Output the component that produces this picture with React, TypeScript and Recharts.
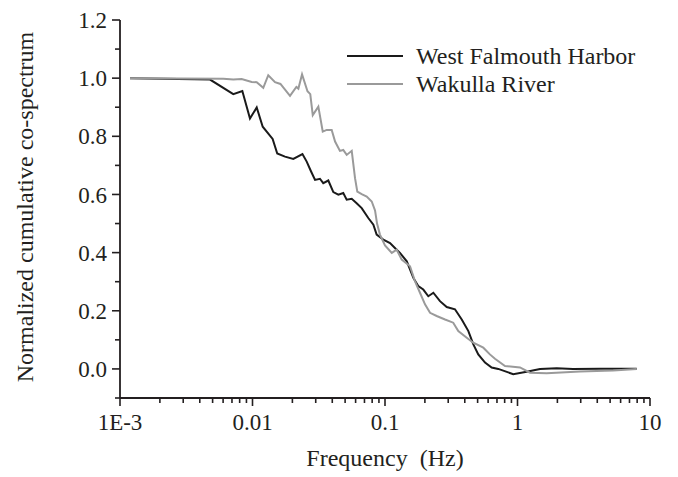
import React from 'react';
import { LineChart, Line, XAxis, YAxis, Legend } from 'recharts';

// frequency (Hz) and normalized cumulative co-spectrum
const westFreq = [
  0.00119, 0.00478, 0.00716, 0.00838, 0.00957, 0.01076, 0.01194, 0.01419, 0.01537, 0.01758,
  0.02032, 0.02382, 0.02565, 0.02768, 0.02965, 0.03228, 0.0342, 0.03733, 0.04074, 0.04446,
  0.04842, 0.0514, 0.0561, 0.0611, 0.0667, 0.0748, 0.0817, 0.0865, 0.0971, 0.1091,
  0.1225, 0.1297, 0.146, 0.1637, 0.1782, 0.1945, 0.2123, 0.2317, 0.26, 0.2924,
  0.3373, 0.3795, 0.4258, 0.4634, 0.5058, 0.5689, 0.6383, 0.7161, 0.929, 1.172,
  1.479, 1.976, 2.624, 4.2, 7.94,
];
const westValues = [
  1.0, 0.995, 0.945, 0.956, 0.861, 0.899, 0.833, 0.791, 0.741, 0.73,
  0.722, 0.739, 0.713, 0.679, 0.65, 0.654, 0.639, 0.648, 0.608, 0.599,
  0.605, 0.582, 0.585, 0.57, 0.553, 0.519, 0.496, 0.462, 0.445, 0.433,
  0.41, 0.399, 0.37, 0.313, 0.285, 0.273, 0.25, 0.262, 0.233, 0.213,
  0.205, 0.17, 0.13, 0.085, 0.05, 0.022, 0.005, 0.0, -0.018, -0.01,
  0.0, 0.002, 0.0, 0.001, 0.001,
];

const wakullaFreq = [
  0.00119, 0.00603, 0.00716, 0.00828, 0.00986, 0.01076, 0.01206, 0.01315, 0.01479, 0.01625,
  0.01919, 0.02143, 0.0222, 0.02366, 0.026, 0.02729, 0.0285, 0.0314, 0.0339, 0.0363,
  0.0396, 0.042, 0.0457, 0.0484, 0.0514, 0.0561, 0.0594, 0.0618, 0.0667, 0.0728,
  0.0794, 0.0841, 0.0871, 0.0916, 0.1, 0.1125, 0.1225, 0.1337, 0.1545, 0.1683,
  0.1837, 0.2004, 0.2188, 0.2455, 0.2838, 0.3273, 0.3573, 0.414, 0.4634, 0.552,
  0.619, 0.676, 0.805, 1.045, 1.242, 1.66, 2.963, 5.28, 7.94,
];
const wakullaValues = [
  1.0, 0.998, 0.995, 0.997, 0.987, 0.986, 0.967, 1.01, 0.986, 0.98,
  0.939, 0.97, 0.964, 1.013, 0.955, 0.945, 0.873, 0.902, 0.816, 0.822,
  0.822, 0.782, 0.75, 0.753, 0.736, 0.75, 0.656, 0.61, 0.601, 0.593,
  0.576, 0.545, 0.5, 0.462, 0.425, 0.399, 0.41, 0.376, 0.353, 0.302,
  0.262, 0.222, 0.193, 0.182, 0.17, 0.159, 0.13, 0.107, 0.09, 0.073,
  0.05, 0.035, 0.01, 0.005, -0.013, -0.015, -0.009, -0.005, 0.0,
];

const xTicks = [
  0.001, 0.002, 0.003, 0.004, 0.005, 0.006, 0.007, 0.008, 0.009,
  0.01, 0.02, 0.03, 0.04, 0.05, 0.06, 0.07, 0.08, 0.09,
  0.1, 0.2, 0.3, 0.4, 0.5, 0.6, 0.7, 0.8, 0.9,
  1, 2, 3, 4, 5, 6, 7, 8, 9, 10,
];
const xMajor = [0.001, 0.01, 0.1, 1, 10];
const xLabels = ['1E-3', '0.01', '0.1', '1', '10'];

const yTicks = [-0.1, 0, 0.1, 0.2, 0.3, 0.4, 0.5, 0.6, 0.7, 0.8, 0.9, 1.0, 1.1, 1.2];
const yLabels = ['0.0', '0.2', '0.4', '0.6', '0.8', '1.0', '1.2'];

const westData = westFreq.map((f, i) => ({ f, v: westValues[i] }));
const wakullaData = wakullaFreq.map((f, i) => ({ f, v: wakullaValues[i] }));

const FONT = "'Liberation Serif', 'Times New Roman', serif";
const INK = '#231f20';

const XTick = (props: any) => {
  const { x, y, payload } = props;
  const idx = xMajor.findIndex((m) => Math.abs(m - payload.value) < 1e-9);
  const major = idx >= 0;
  return (
    <g>
      <line x1={x} y1={y} x2={x} y2={y + (major ? 8 : 5)} stroke={INK} strokeWidth={1.6} />
      {major && (
        <text x={x} y={y + 32} textAnchor="middle" style={{ fontFamily: FONT, fontSize: 23 }} fill={INK}>
          {xLabels[idx]}
        </text>
      )}
    </g>
  );
};

const YTick = (props: any) => {
  const { x, y, payload } = props;
  const label = payload.value.toFixed(1);
  const major = yLabels.includes(label);
  return (
    <g>
      <line x1={x} y1={y} x2={x - (major ? 8 : 5)} y2={y} stroke={INK} strokeWidth={1.6} />
      {major && (
        <text x={x - 13} y={y} dy="0.35em" textAnchor="end" style={{ fontFamily: FONT, fontSize: 23 }} fill={INK}>
          {label}
        </text>
      )}
    </g>
  );
};

const series = [
  { name: 'West Falmouth Harbor', color: '#1a1a1a' },
  { name: 'Wakulla River', color: '#9a9a9a' },
];

const LegendBox = () => (
  <svg width={300} height={60}>
    {series.map((s, i) => (
      <g key={s.name}>
        <line x1={0} y1={16 + i * 28} x2={56} y2={16 + i * 28} stroke={s.color} strokeWidth={2} />
        <text x={69} y={24 + i * 28} style={{ fontFamily: FONT, fontSize: 24 }} fill={INK}>
          {s.name}
        </text>
      </g>
    ))}
  </svg>
);

export default function App() {
  return (
    <div style={{ position: 'absolute', left: 0, top: 0, background: '#fff' }}>
      <LineChart width={678} height={477} margin={{ top: 20, right: 28, left: 0, bottom: 0 }}>
        <XAxis
          dataKey="f"
          type="number"
          scale="log"
          domain={[0.001, 10]}
          ticks={xTicks}
          interval={0}
          allowDataOverflow
          height={79}
          tickSize={0}
          tickMargin={0}
          tickLine={false}
          tick={<XTick />}
          axisLine={{ stroke: INK, strokeWidth: 1.8 }}
          label={{
            content: (p: any) => {
              const vb = p.viewBox;
              return (
                <text
                  x={vb.x + vb.width / 2}
                  y={vb.y + vb.height - 11}
                  textAnchor="middle"
                  fill={INK}
                  style={{ whiteSpace: 'pre', fontFamily: FONT, fontSize: 24 }}
                >
                  {'Frequency  (Hz)'}
                </text>
              );
            },
          }}
        />
        <YAxis
          type="number"
          domain={[-0.1, 1.2]}
          ticks={yTicks}
          interval={0}
          width={120}
          tickSize={0}
          tickMargin={0}
          tickLine={false}
          tick={<YTick />}
          axisLine={{ stroke: INK, strokeWidth: 1.8 }}
          label={{
            content: (p: any) => {
              const vb = p.viewBox;
              const cx = 33;
              const cy = vb.y + vb.height / 2 - 2;
              return (
                <text
                  x={cx}
                  y={cy}
                  transform={`rotate(-90 ${cx} ${cy})`}
                  textAnchor="middle"
                  fill={INK}
                  style={{ fontFamily: FONT, fontSize: 24 }}
                >
                  Normalized cumulative co-spectrum
                </text>
              );
            },
          }}
        />
        <Legend
          layout="vertical"
          align="center"
          verticalAlign="middle"
          content={() => <LegendBox />}
          wrapperStyle={{ position: 'absolute', left: 347, top: 40, width: 300 }}
        />
        <Line
          data={westData}
          dataKey="v"
          name="West Falmouth Harbor"
          stroke="#1a1a1a"
          strokeWidth={2}
          dot={false}
          type="linear"
          isAnimationActive={false}
        />
        <Line
          data={wakullaData}
          dataKey="v"
          name="Wakulla River"
          stroke="#9a9a9a"
          strokeWidth={2}
          dot={false}
          type="linear"
          isAnimationActive={false}
        />
      </LineChart>
    </div>
  );
}
